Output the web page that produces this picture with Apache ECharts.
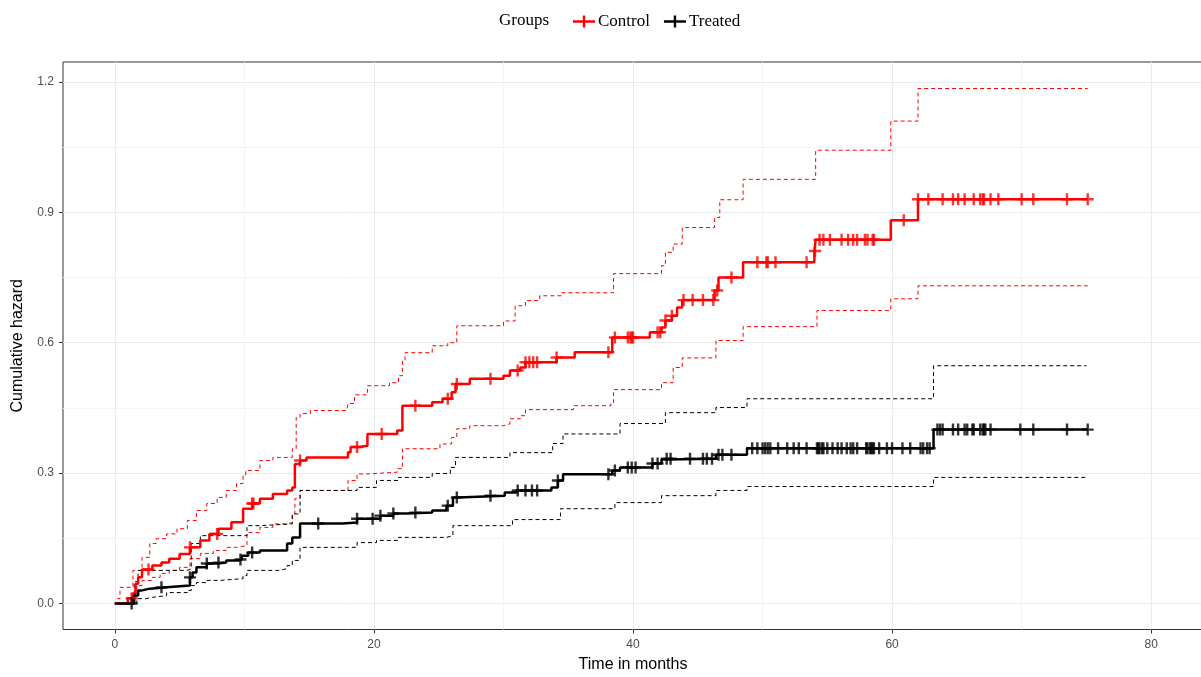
<!DOCTYPE html>
<html><head><meta charset="utf-8">
<script src="https://cdn.jsdelivr.net/npm/echarts@6/dist/echarts.min.js"></script>
<style>html,body{margin:0;padding:0;background:#fff}#c{width:1201px;height:677px}</style>
</head><body><div id="c"></div><script>
// ---- data ----
const xTicks = [0, 20, 40, 60, 80];
const xMinor = [10, 30, 50, 70];
const yTicks = [0, 0.3, 0.6, 0.9, 1.2];
const yMinor = [0.15, 0.45, 0.75, 1.05];

const controlTime = [0,1.0,1.4,1.6,1.8,2.1,2.9,3.6,4.2,5.0,5.8,6.6,7.3,8.0,9.0,9.9,10.6,11.2,12.2,13.3,13.7,13.9,14.3,14.8,18.0,18.2,18.9,19.5,21.8,22.2,24.5,25.3,26.0,26.3,27.4,30.0,30.5,31.3,31.7,34.1,35.5,38.4,41.3,42.2,42.5,43.0,43.4,43.8,46.3,46.6,48.5,54.0,54.1,59.9,62.0,75.1];
const controlHaz  = [0,0.012,0.023,0.045,0.06,0.078,0.087,0.094,0.103,0.114,0.129,0.145,0.16,0.172,0.187,0.218,0.23,0.241,0.252,0.26,0.267,0.321,0.329,0.336,0.348,0.36,0.363,0.39,0.398,0.455,0.463,0.471,0.486,0.505,0.517,0.524,0.536,0.543,0.555,0.566,0.578,0.612,0.624,0.635,0.651,0.662,0.681,0.698,0.72,0.75,0.785,0.811,0.837,0.882,0.93,0.93];

const controlUpTime = [0,0.2,0.4,1.4,2.1,2.7,3.2,4.0,4.8,5.6,6.3,7.1,7.9,8.6,9.4,9.9,10.1,11.2,12.2,13.7,14.0,14.3,15.1,17.9,18.0,18.5,19.5,21.2,21.9,22.2,22.4,24.5,25.7,26.4,30.0,30.9,31.7,32.8,34.5,38.5,42.2,42.5,43.1,43.8,46.3,46.7,48.5,54.1,59.9,62.0,75.1];
const controlUp     = [0,0.011,0.037,0.076,0.106,0.138,0.149,0.16,0.172,0.191,0.214,0.23,0.244,0.26,0.276,0.294,0.306,0.329,0.336,0.356,0.428,0.437,0.444,0.448,0.46,0.48,0.501,0.508,0.524,0.559,0.577,0.593,0.6,0.639,0.65,0.685,0.697,0.708,0.715,0.759,0.777,0.808,0.827,0.865,0.888,0.929,0.976,1.043,1.11,1.185,1.185];

const controlLoTime = [0,1.4,1.7,2.1,2.9,3.5,4.2,5.0,5.8,6.6,7.6,8.6,9.4,10.2,11.2,12.2,13.3,13.7,13.9,14.3,18.0,18.7,19.5,21.8,22.2,25.1,26.0,26.4,27.4,30.0,30.5,31.3,31.7,35.4,38.3,38.5,42.2,43.1,43.8,46.4,48.5,54.2,59.9,62.0,75.1];
const controlLo     = [0,0.023,0.041,0.053,0.06,0.069,0.076,0.083,0.103,0.115,0.122,0.129,0.133,0.163,0.175,0.183,0.186,0.206,0.241,0.26,0.283,0.298,0.302,0.31,0.356,0.367,0.382,0.402,0.409,0.413,0.425,0.432,0.446,0.455,0.462,0.492,0.508,0.543,0.565,0.605,0.637,0.674,0.701,0.731,0.731];

const treatedTime = [0,1.5,1.8,2.1,2.7,4.0,5.8,6.0,6.3,7.1,8.0,8.6,9.5,9.8,10.3,11.2,13.3,13.7,14.3,17.6,18.7,20.5,21.5,22.5,24.5,25.6,26.1,26.5,30.1,31.0,33.7,34.2,34.6,38.4,39.0,41.5,42.2,42.6,46.4,48.8,63.2,75.1];
const treatedHaz  = [0,0.018,0.03,0.034,0.037,0.041,0.06,0.071,0.083,0.092,0.094,0.099,0.101,0.11,0.117,0.122,0.138,0.152,0.184,0.186,0.195,0.202,0.207,0.209,0.214,0.225,0.244,0.248,0.255,0.26,0.267,0.283,0.297,0.306,0.313,0.322,0.331,0.333,0.342,0.357,0.40,0.40];

const treatedUpTime = [0,1.5,1.8,5.6,5.9,6.6,10.2,11.2,13.7,14.3,18.7,20.2,21.9,24.5,25.9,26.3,30.5,33.8,34.6,39.0,42.5,46.4,48.8,63.2,75.0];
const treatedUp     = [0,0.05,0.076,0.08,0.138,0.156,0.179,0.183,0.206,0.26,0.267,0.283,0.29,0.299,0.313,0.336,0.347,0.368,0.39,0.414,0.439,0.451,0.471,0.547,0.547];

const treatedLoTime = [0,1.7,2.4,2.9,4.0,5.6,5.9,6.3,7.1,8.1,9.9,10.2,12.7,13.3,13.7,14.3,18.7,20.2,21.9,25.6,26.1,30.7,34.4,38.6,42.2,46.4,48.8,63.2,75.0];
const treatedLo     = [0,0.011,0.014,0.018,0.025,0.03,0.041,0.048,0.053,0.057,0.064,0.076,0.08,0.087,0.099,0.129,0.14,0.145,0.152,0.156,0.179,0.193,0.218,0.232,0.248,0.26,0.269,0.29,0.29];

const controlCensor = [1.3,2.6,5.8,7.9,10.6,10.7,14.3,18.7,20.6,23.2,25.7,26.4,29.0,31.1,31.7,32.0,32.3,32.6,34.1,38.1,38.6,39.6,39.8,39.9,40.0,41.9,42.1,42.5,43.0,43.9,44.6,45.4,46.2,46.5,47.6,49.6,50.3,50.4,51.0,53.4,54.05,54.4,54.7,55.2,56.1,56.6,57.0,57.3,57.9,58.1,58.5,58.6,60.9,62.0,62.8,63.9,64.7,65.1,65.6,66.3,66.8,67.0,67.1,67.6,68.2,70.0,70.9,73.5,75.1];
const treatedCensor = [1.3,3.6,5.8,7.1,8.0,9.7,10.6,15.7,18.7,19.9,20.5,21.5,23.2,25.7,26.4,29.0,31.1,31.7,32.2,32.6,34.2,38.1,38.6,39.6,39.9,40.2,41.5,41.9,42.6,42.9,44.4,45.4,45.7,46.1,46.6,46.9,47.6,49.2,49.6,50.0,50.2,50.4,50.6,51.2,51.9,52.4,52.8,53.4,54.2,54.3,54.4,54.6,54.7,55.0,55.4,55.8,56.1,56.5,56.8,57.0,57.3,58.0,58.1,58.3,58.4,58.5,58.6,59.0,59.6,60.0,60.8,61.4,62.2,62.4,62.7,62.9,63.5,63.7,63.9,64.7,65.1,65.6,65.8,66.2,66.3,66.8,67.0,67.1,67.2,67.6,69.9,70.9,73.5,75.1];

// ---- helpers ----
function zip(t, v) { return t.map((x, i) => [x, v[i]]); }
function stepAt(t, v, x) { let r = v[0]; for (let i = 0; i < t.length; i++) { if (t[i] <= x) r = v[i]; } return r; }
function marks(ct, t, v) { return ct.map(x => [x, stepAt(t, v, x)]); }

const PLUS = 'path://M4,0h2v4h4v2h-4v4h-2v-4h-4v-2h4z';
const LEG = 'path://M0,4.8h22v2.4h-22zM9.8,0h2.4v12h-2.4z';
const RED = '#ff0000', BLK = '#000000';

function stepLine(name, data, color, width, dashed) {
  return { name, type: 'line', step: 'end', data, showSymbol: false, symbol: 'none',
    lineStyle: { color, width, type: dashed ? [4, 3] : 'solid' }, itemStyle: { color },
    z: dashed ? 2 : 3, silent: true };
}
function censor(name, data, color) {
  return { name, type: 'scatter', data, symbol: PLUS, symbolSize: 12, itemStyle: { color }, z: 4, silent: true };
}

const chart = echarts.init(document.getElementById('c'), null, { renderer: 'canvas' });
const lbl = { color: '#4d4d4d', fontSize: 12, fontFamily: 'Liberation Sans, Arial, sans-serif' };
const serif = 'Liberation Serif, Times New Roman, serif';
chart.setOption({
  animation: false,
  backgroundColor: '#ffffff',
  grid: { left: 63, width: 1140, top: 62, bottom: 47.5, show: true, borderColor: '#333333', borderWidth: 1,
          backgroundColor: 'transparent', containLabel: false, outerBoundsMode: 'none' },
  graphic: [{ type: 'text', left: 499, top: 12, style: { text: 'Groups', fill: '#000', font: '17px "Liberation Serif", "Times New Roman", serif' } }],
  legend: {
    left: 568, top: 8, itemWidth: 22, itemHeight: 12, itemGap: 14,
    textStyle: { color: '#000', fontSize: 17, fontFamily: serif, padding: [0, 0, 0, -2] },
    data: [{ name: 'Control', icon: LEG, itemStyle: { color: RED } }, { name: 'Treated', icon: LEG, itemStyle: { color: BLK } }],
    selectedMode: false
  },
  xAxis: [
    { type: 'value', min: -4, max: 84, position: 'bottom',
      name: 'Time in months', nameLocation: 'middle', nameGap: 27,
      nameTextStyle: { color: '#000', fontSize: 16, fontFamily: 'Liberation Sans, Arial, sans-serif' },
      axisLine: { show: false, onZero: false },
      axisTick: { show: true, inside: false, length: 4, customValues: xTicks, lineStyle: { color: '#333', width: 1 } },
      axisLabel: Object.assign({ margin: 9, customValues: xTicks }, lbl),
      splitLine: { show: true, lineStyle: { color: '#ebebeb', width: 1 } } },
    { type: 'value', min: -4, max: 84, position: 'bottom',
      axisLine: { show: false, onZero: false }, axisTick: { show: false, customValues: xMinor }, axisLabel: { show: false, customValues: xMinor },
      splitLine: { show: true, lineStyle: { color: '#f4f4f4', width: 1 } } }
  ],
  yAxis: [
    { type: 'value', min: -0.06, max: 1.246, position: 'left',
      name: 'Cumulative hazard', nameLocation: 'middle', nameGap: 37,
      nameTextStyle: { color: '#000', fontSize: 16, fontFamily: 'Liberation Sans, Arial, sans-serif' },
      axisLine: { show: false, onZero: false },
      axisTick: { show: true, inside: false, length: 4, customValues: yTicks, lineStyle: { color: '#333', width: 1 } },
      axisLabel: Object.assign({ margin: 9, customValues: yTicks, formatter: v => v.toFixed(1) }, lbl),
      splitLine: { show: true, lineStyle: { color: '#ebebeb', width: 1 } } },
    { type: 'value', min: -0.06, max: 1.246, position: 'left',
      axisLine: { show: false, onZero: false }, axisTick: { show: false, customValues: yMinor }, axisLabel: { show: false, customValues: yMinor },
      splitLine: { show: true, lineStyle: { color: '#f4f4f4', width: 1 } } }
  ],
  series: [
    stepLine('Control', zip(controlUpTime, controlUp), RED, 1, true),
    stepLine('Control', zip(controlLoTime, controlLo), RED, 1, true),
    stepLine('Treated', zip(treatedUpTime, treatedUp), BLK, 1, true),
    stepLine('Treated', zip(treatedLoTime, treatedLo), BLK, 1, true),
    stepLine('Control', zip(controlTime, controlHaz), RED, 2.5, false),
    stepLine('Treated', zip(treatedTime, treatedHaz), BLK, 2.5, false),
    censor('Control', marks(controlCensor, controlTime, controlHaz), RED),
    censor('Treated', marks(treatedCensor, treatedTime, treatedHaz), BLK)
  ]
});
</script></body></html>
